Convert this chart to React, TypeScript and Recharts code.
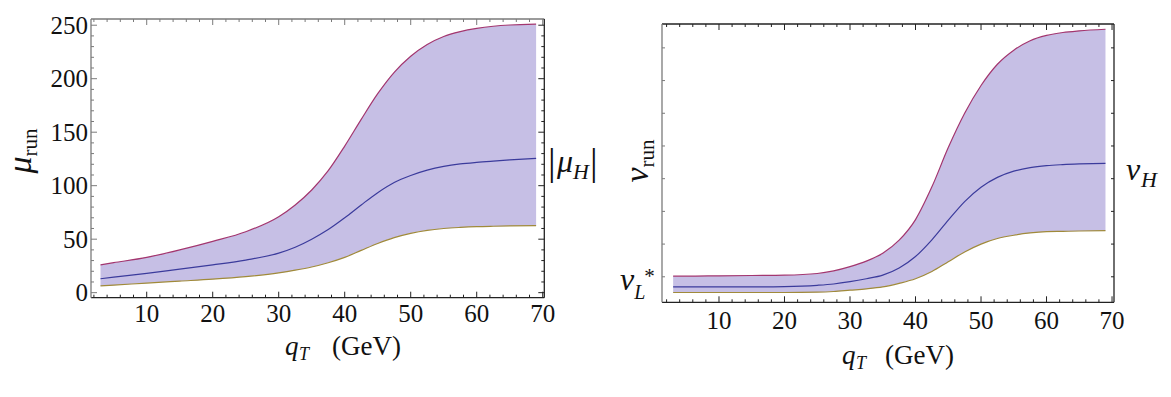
import React from 'react';
import { ComposedChart, Area, Line, XAxis, YAxis } from 'recharts';

// ---------- Left panel: mu_run vs q_T ----------
const qTLeft = [3, 5, 10, 15, 20, 25, 30, 32.5, 35, 37.5, 40, 42.5, 45, 47.5, 50, 52.5, 55, 57.5, 60, 62.5, 65, 69];
const muUpper = [26, 28, 33, 40, 48, 57, 71, 82, 96, 114, 137, 162, 186, 206, 221, 232, 239.5, 244, 247, 249, 250.2, 251];
const muCentral = [13, 14.5, 18, 22, 26, 30.5, 37, 42.5, 50, 59, 70, 82, 93.5, 103, 109.5, 114.5, 118, 120.3, 121.8, 123, 124.1, 125.5];
const muLower = [6.3, 7, 9, 10.8, 12.6, 15, 18.5, 21, 24, 28, 33, 39.5, 46, 51.5, 55.5, 58.3, 60, 61, 61.7, 62.1, 62.4, 62.6];

// ---------- Right panel: nu_run vs q_T (arbitrary units) ----------
const qTRight = [3, 5, 10, 15, 20, 25, 27.5, 30, 32.5, 35, 37.5, 40, 42.5, 45, 47.5, 50, 52.5, 55, 57.5, 60, 62.5, 65, 69];
const nuUpper = [0.02, 0.02, 0.03, 0.04, 0.05, 0.1, 0.18, 0.31, 0.48, 0.72, 1.12, 1.75, 2.75, 3.95, 5.0, 5.85, 6.5, 6.93, 7.22, 7.38, 7.47, 7.52, 7.57];
const nuCentral = [-0.31, -0.31, -0.31, -0.31, -0.3, -0.26, -0.22, -0.15, -0.06, 0.05, 0.27, 0.62, 1.13, 1.73, 2.3, 2.74, 3.04, 3.23, 3.34, 3.4, 3.43, 3.45, 3.47];
const nuLower = [-0.48, -0.48, -0.48, -0.48, -0.48, -0.47, -0.45, -0.41, -0.37, -0.31, -0.2, -0.06, 0.16, 0.46, 0.76, 1.0, 1.17, 1.27, 1.34, 1.38, 1.39, 1.4, 1.41];

// ---------- Ticks ----------
const xMajorTicks = [10, 20, 30, 40, 50, 60, 70];
const xAllTicks = [2, 4, 6, 8, 10, 12, 14, 16, 18, 20, 22, 24, 26, 28, 30, 32, 34, 36, 38, 40, 42, 44, 46, 48, 50, 52, 54, 56, 58, 60, 62, 64, 66, 68, 70];
const muMajorTicks = [0, 50, 100, 150, 200, 250];
const muAllTicks = [0, 10, 20, 30, 40, 50, 60, 70, 80, 90, 100, 110, 120, 130, 140, 150, 160, 170, 180, 190, 200, 210, 220, 230, 240, 250];
const nuTicks = [0, 1, 2, 3, 4, 5, 6, 7];

const muData = qTLeft.map((q, i) => ({
  q,
  band: [muLower[i], muUpper[i]],
  upper: muUpper[i],
  central: muCentral[i],
  lower: muLower[i],
}));
const nuData = qTRight.map((q, i) => ({
  q,
  band: [nuLower[i], nuUpper[i]],
  upper: nuUpper[i],
  central: nuCentral[i],
  lower: nuLower[i],
}));

const FONT = '"Liberation Serif", "Times New Roman", "DejaVu Serif", serif';
const FILL = '#c6bfe5';
const C_UP = '#a3366f';
const C_MID = '#3b3b9c';
const C_LOW = '#a08a3a';
const GRAY = '#7a7a7a';
const DARK = '#222';

type TickProps = any;

const makeTick = (
  side: 'bottom' | 'top' | 'left' | 'right',
  majors: number[],
  color: string,
  showLabel: boolean,
  labelOffset = 23,
  majorLen = 6,
  minorLen = 3,
) => (props: TickProps) => {
  const { x, y, payload } = props;
  const v = payload.value;
  const major = majors.includes(v);
  const len = major ? majorLen : minorLen;
  let line;
  if (side === 'bottom') line = <line x1={x} x2={x} y1={y} y2={y - len} stroke={color} strokeWidth={1} />;
  else if (side === 'top') line = <line x1={x} x2={x} y1={y} y2={y + len} stroke={color} strokeWidth={1} />;
  else if (side === 'left') line = <line x1={x} x2={x + len} y1={y} y2={y} stroke={color} strokeWidth={1} />;
  else line = <line x1={x} x2={x - len} y1={y} y2={y} stroke={color} strokeWidth={1} />;
  let label = null;
  if (showLabel && major) {
    if (side === 'bottom') {
      label = (
        <text x={x} y={y + labelOffset} textAnchor="middle" fontFamily={FONT} fontSize={25} fill="#111">
          {v}
        </text>
      );
    } else if (side === 'left') {
      label = (
        <text x={x - 3} y={y + 8.5} textAnchor="end" fontFamily={FONT} fontSize={25} fill="#111">
          {v}
        </text>
      );
    }
  }
  return (
    <g>
      {line}
      {label}
    </g>
  );
};

const LeftPanel = () => (
  <ComposedChart
    width={600}
    height={397}
    data={muData}
    margin={{ top: 18, left: 90, right: 54.7, bottom: 98.3 }}
  >
    <XAxis
      xAxisId="b"
      type="number"
      dataKey="q"
      domain={[1.56, 70.24]}
      allowDataOverflow
      ticks={xAllTicks}
      interval={0}
      height={1}
      tickSize={0}
      tickMargin={0}
      tickLine={false}
      axisLine={{ stroke: DARK, strokeWidth: 1.3 }}
      tick={makeTick('bottom', xMajorTicks, DARK, true, 24)}
    />
    <XAxis
      xAxisId="t"
      orientation="top"
      type="number"
      dataKey="q"
      domain={[1.56, 70.24]}
      allowDataOverflow
      ticks={xAllTicks}
      interval={0}
      height={1}
      tickSize={0}
      tickMargin={0}
      tickLine={false}
      axisLine={{ stroke: GRAY, strokeWidth: 1.3 }}
      tick={makeTick('top', xMajorTicks, GRAY, false)}
    />
    <YAxis
      yAxisId="l"
      type="number"
      domain={[-4.7, 255.8]}
      allowDataOverflow
      ticks={muAllTicks}
      interval={0}
      width={1}
      tickSize={0}
      tickMargin={0}
      tickLine={false}
      axisLine={{ stroke: GRAY, strokeWidth: 1.3 }}
      tick={makeTick('left', muMajorTicks, GRAY, true)}
    />
    <YAxis
      yAxisId="r"
      orientation="right"
      type="number"
      domain={[-4.7, 255.8]}
      allowDataOverflow
      ticks={muAllTicks}
      interval={0}
      width={1}
      tickSize={0}
      tickMargin={0}
      tickLine={false}
      axisLine={{ stroke: DARK, strokeWidth: 1.3 }}
      tick={makeTick('right', muMajorTicks, DARK, false)}
    />
    <Area xAxisId="b" yAxisId="l" type="monotone" dataKey="band" stroke="none" fill={FILL} fillOpacity={1} isAnimationActive={false} />
    <Line xAxisId="b" yAxisId="l" type="monotone" dataKey="upper" stroke={C_UP} strokeWidth={1.2} dot={false} isAnimationActive={false} />
    <Line xAxisId="b" yAxisId="l" type="monotone" dataKey="central" stroke={C_MID} strokeWidth={1.2} dot={false} isAnimationActive={false} />
    <Line xAxisId="b" yAxisId="l" type="monotone" dataKey="lower" stroke={C_LOW} strokeWidth={1.2} dot={false} isAnimationActive={false} />
  </ComposedChart>
);

const RightPanel = () => (
  <ComposedChart
    width={571}
    height={397}
    data={nuData}
    margin={{ top: 23, left: 61, right: 56, bottom: 93.7 }}
  >
    <XAxis
      xAxisId="b"
      type="number"
      dataKey="q"
      domain={[1.3, 70.3]}
      allowDataOverflow
      ticks={xAllTicks}
      interval={0}
      height={1}
      tickSize={0}
      tickMargin={0}
      tickLine={false}
      axisLine={{ stroke: DARK, strokeWidth: 1.3 }}
      tick={makeTick('bottom', xMajorTicks, DARK, true, 26.5)}
    />
    <XAxis
      xAxisId="t"
      orientation="top"
      type="number"
      dataKey="q"
      domain={[1.3, 70.3]}
      allowDataOverflow
      ticks={xAllTicks}
      interval={0}
      height={1}
      tickSize={0}
      tickMargin={0}
      tickLine={false}
      axisLine={{ stroke: DARK, strokeWidth: 1.3 }}
      tick={makeTick('top', xMajorTicks, DARK, false)}
    />
    <YAxis
      yAxisId="l"
      type="number"
      domain={[-0.78, 7.73]}
      allowDataOverflow
      ticks={nuTicks}
      interval={0}
      width={1}
      tickSize={0}
      tickMargin={0}
      tickLine={false}
      axisLine={{ stroke: GRAY, strokeWidth: 1.3 }}
      tick={makeTick('left', [], GRAY, false)}
    />
    <YAxis
      yAxisId="r"
      orientation="right"
      type="number"
      domain={[-0.78, 7.73]}
      allowDataOverflow
      ticks={nuTicks}
      interval={0}
      width={1}
      tickSize={0}
      tickMargin={0}
      tickLine={false}
      axisLine={{ stroke: DARK, strokeWidth: 1.3 }}
      tick={makeTick('right', [], DARK, false)}
    />
    <Area xAxisId="b" yAxisId="l" type="monotone" dataKey="band" stroke="none" fill={FILL} fillOpacity={1} isAnimationActive={false} />
    <Line xAxisId="b" yAxisId="l" type="monotone" dataKey="upper" stroke={C_UP} strokeWidth={1.2} dot={false} isAnimationActive={false} />
    <Line xAxisId="b" yAxisId="l" type="monotone" dataKey="central" stroke={C_MID} strokeWidth={1.2} dot={false} isAnimationActive={false} />
    <Line xAxisId="b" yAxisId="l" type="monotone" dataKey="lower" stroke={C_LOW} strokeWidth={1.2} dot={false} isAnimationActive={false} />
  </ComposedChart>
);

const Labels = () => (
  <svg width={1171} height={397} style={{ position: 'absolute', left: 0, top: 0, pointerEvents: 'none' }}>
    <g fontFamily={FONT} fill="#111">
      {/* left y label */}
      <text transform="translate(31,151) rotate(-90)" textAnchor="middle">
        <tspan fontStyle="italic" fontSize={34}>μ</tspan>
        <tspan fontSize={21} dy={6}>run</tspan>
      </text>
      {/* |mu_H| */}
      <text x={548} y={175} fontSize={38}>|</text>
      <text x={557} y={172} fontSize={32} fontStyle="italic">μ</text>
      <text x={573} y={179} fontSize={22} fontStyle="italic">H</text>
      <text x={590} y={175} fontSize={38}>|</text>
      {/* left x label */}
      <text x={285} y={355} fontSize={27} fontStyle="italic">q</text>
      <text x={299} y={360} fontSize={18} fontStyle="italic">T</text>
      <text x={332} y={355} fontSize={27}>(GeV)</text>

      {/* right y label */}
      <text transform="translate(648,161) rotate(-90)" textAnchor="middle">
        <tspan fontStyle="italic" fontSize={34}>ν</tspan>
        <tspan fontSize={21} dy={6}>run</tspan>
      </text>
      {/* nu_H */}
      <text x={1126} y={180} fontSize={32} fontStyle="italic">ν</text>
      <text x={1141} y={187} fontSize={22} fontStyle="italic">H</text>
      {/* nu_L^* */}
      <text x={620} y={290}>
        <tspan fontSize={32} fontStyle="italic">ν</tspan>
        <tspan fontSize={20} fontStyle="italic" dy={9}>L</tspan>
        <tspan fontSize={21} dx={-1} dy={-16}>*</tspan>
      </text>
      {/* right x label */}
      <text x={842} y={364} fontSize={27} fontStyle="italic">q</text>
      <text x={856} y={369} fontSize={18} fontStyle="italic">T</text>
      <text x={885} y={364} fontSize={27}>(GeV)</text>
    </g>
  </svg>
);

export default function App() {
  return (
    <div style={{ position: 'fixed', left: 0, top: 0, width: 1171, height: 397, background: '#fff', overflow: 'hidden' }}>
      <div style={{ position: 'absolute', left: 0, top: 0 }}>
        <LeftPanel />
      </div>
      <div style={{ position: 'absolute', left: 600, top: 0 }}>
        <RightPanel />
      </div>
      <Labels />
    </div>
  );
}
